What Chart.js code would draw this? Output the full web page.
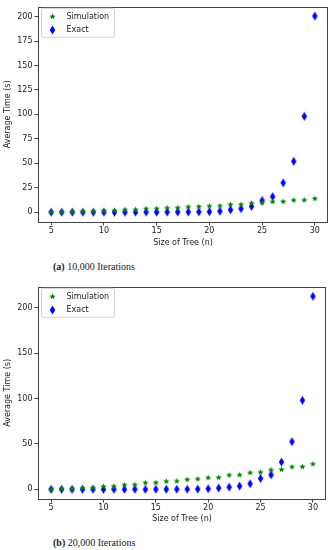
<!DOCTYPE html>
<html lang="en">
<head>
<meta charset="UTF-8">
<title>Average Time vs Size of Tree</title>
<script src="https://cdn.jsdelivr.net/npm/chart.js"></script>
<style>
  body { margin: 0; background: #fff; width: 334px; height: 550px; position: relative; overflow: hidden; }
  .box { position: absolute; left: 0; width: 334px; }
  .caption { position: absolute; left: 53px; font-family: "Liberation Serif", serif; font-size: 10px; color: #222; white-space: nowrap; }
</style>
</head>
<body>
<div class="box" style="top:0;height:250px"><canvas id="chartA"></canvas></div>
<div class="caption" style="top:261px"><b>(a)</b> 10,000 Iterations</div>
<div class="box" style="top:280px;height:248px"><canvas id="chartB"></canvas></div>
<div class="caption" style="top:537px"><b>(b)</b> 20,000 Iterations</div>

<script>
// tree sizes (x values)
const sizes = [5, 6, 7, 8, 9, 10, 11, 12, 13, 14, 15, 16, 17, 18, 19, 20, 21, 22, 23, 24, 25, 26, 27, 28, 29, 30];

// (a) 10,000 iterations
const sim10k   = [0.15, 0.35, 0.4, 0.8, 0.9, 1.6, 1.8, 2.5, 2.6, 3.6, 3.8, 4.5, 4.6, 5.5, 5.8, 6.4, 6.6, 7.9, 8.0, 9.3, 9.5, 10.8, 11.0, 12.4, 12.5, 14.0];
const exact10k = [0.01, 0.01, 0.01, 0.01, 0.01, 0.02, 0.02, 0.03, 0.04, 0.05, 0.07, 0.1, 0.15, 0.2, 0.3, 0.5, 1.0, 2.5, 3.6, 6.0, 12.0, 16.0, 30.0, 52.0, 98.0, 200.5];

// (b) 20,000 iterations
const sim20k   = [0.3, 0.7, 0.8, 1.5, 1.8, 3.2, 3.5, 5.0, 5.2, 7.3, 7.5, 9.0, 9.2, 11.0, 11.5, 12.8, 13.2, 15.8, 16.0, 18.5, 19.0, 21.5, 22.0, 24.8, 25.0, 28.0];
const exact20k = [0.01, 0.01, 0.01, 0.01, 0.01, 0.02, 0.02, 0.03, 0.04, 0.05, 0.07, 0.1, 0.15, 0.2, 0.3, 0.7, 1.5, 2.5, 3.6, 6.2, 12.0, 16.0, 30.0, 52.5, 98.0, 212.5];

// tick labels
const xTicks = [5, 10, 15, 20, 25, 30];
const yTicksA = [0, 25, 50, 75, 100, 125, 150, 175, 200];
const yTicksB = [0, 50, 100, 150, 200];

const ink = '#222';
const tickFont = { family: 'DejaVu Sans', size: 8 };

// matplotlib-like markers
function diamondIcon(color) {
  const c = document.createElement('canvas');
  c.width = 7; c.height = 10;
  const g = c.getContext('2d');
  g.fillStyle = color;
  g.beginPath();
  g.moveTo(3.5, 0.5); g.lineTo(6.2, 5); g.lineTo(3.5, 9.5); g.lineTo(0.8, 5);
  g.closePath(); g.fill();
  return c;
}
function starIcon(color) {
  const c = document.createElement('canvas');
  c.width = 7; c.height = 7;
  const g = c.getContext('2d');
  g.fillStyle = color;
  g.beginPath();
  for (let i = 0; i < 10; i++) {
    const r = i % 2 ? 1.4 : 3.3;
    const a = -Math.PI / 2 + i * Math.PI / 5;
    g.lineTo(3.5 + r * Math.cos(a), 3.7 + r * Math.sin(a));
  }
  g.closePath(); g.fill();
  return c;
}
const starG = starIcon('#008000');
const diamB = diamondIcon('#0000ff');

// frame around the plot + boxed legend in the upper left
const frameLegend = {
  id: 'frameLegend',
  afterDraw(chart) {
    const { ctx, chartArea: a } = chart;
    ctx.save();
    ctx.strokeStyle = '#444';
    ctx.lineWidth = 1;
    ctx.strokeRect(Math.round(a.left) + 0.5, Math.round(a.top) + 0.5, Math.round(a.width) - 1, Math.round(a.height));

    const x0 = a.left + 3.5, y0 = a.top + 1.5, w = 73, h = 29;
    ctx.fillStyle = 'rgba(255,255,255,0.8)';
    ctx.strokeStyle = '#d0d0d0';
    ctx.beginPath();
    ctx.roundRect(x0, y0, w, h, 2);
    ctx.fill(); ctx.stroke();

    ctx.font = '8px "DejaVu Sans"';
    ctx.fillStyle = ink;
    ctx.textBaseline = 'middle';
    chart.data.datasets.forEach((ds, i) => {
      const img = ds.pointStyle;
      const cy = y0 + 8.5 + i * 13;
      ctx.drawImage(img, Math.round(x0 + 11 - img.width / 2), Math.round(cy - img.height / 2));
      ctx.fillText(ds.label, x0 + 25, cy);
    });
    ctx.restore();
  }
};

function makeChart(id, sim, exact, yTicks, yMin, yMax, padRight, titleBottom) {
  new Chart(document.getElementById(id), {
    type: 'scatter',
    data: {
      datasets: [
        { label: 'Simulation', data: sizes.map((n, i) => ({ x: n, y: sim[i] })), pointStyle: starG, pointRadius: 4 },
        { label: 'Exact', data: sizes.map((n, i) => ({ x: n, y: exact[i] })), pointStyle: diamB, pointRadius: 5 }
      ]
    },
    options: {
      responsive: true,
      maintainAspectRatio: false,
      animation: false,
      layout: { padding: { top: id === 'chartA' ? 4 : 5, right: padRight, left: 0, bottom: 0 } },
      plugins: { legend: { display: false }, tooltip: { enabled: false } },
      scales: {
        x: {
          type: 'linear', min: 3.75, max: 31.25,
          afterBuildTicks: s => { s.ticks = xTicks.map(v => ({ value: v })); },
          afterFit: s => { s.height = id === 'chartA' ? 28 : 29; },
          border: { display: false },
          grid: { drawOnChartArea: false, drawTicks: true, tickLength: 3.5, tickColor: '#444' },
          ticks: { color: ink, font: tickFont, padding: 1, maxRotation: 0 },
          title: { display: true, text: 'Size of Tree (n)', color: ink, font: tickFont, padding: { top: 0, bottom: titleBottom } }
        },
        y: {
          type: 'linear', min: yMin, max: yMax,
          afterBuildTicks: s => { s.ticks = yTicks.map(v => ({ value: v })); },
          afterFit: s => { s.width = 38; },
          border: { display: false },
          grid: { drawOnChartArea: false, drawTicks: true, tickLength: 3.5, tickColor: '#444' },
          ticks: { color: ink, font: tickFont, padding: 2 },
          title: { display: true, text: 'Average Time (s)', color: ink, font: tickFont, padding: { top: 3, bottom: 0 } }
        }
      }
    },
    plugins: [frameLegend]
  });
}

makeChart('chartA', sim10k, exact10k, yTicksA, -10, 210, 2, 2);
makeChart('chartB', sim20k, exact20k, yTicksB, -10.6, 223, 8, 4);
</script>
</body>
</html>
